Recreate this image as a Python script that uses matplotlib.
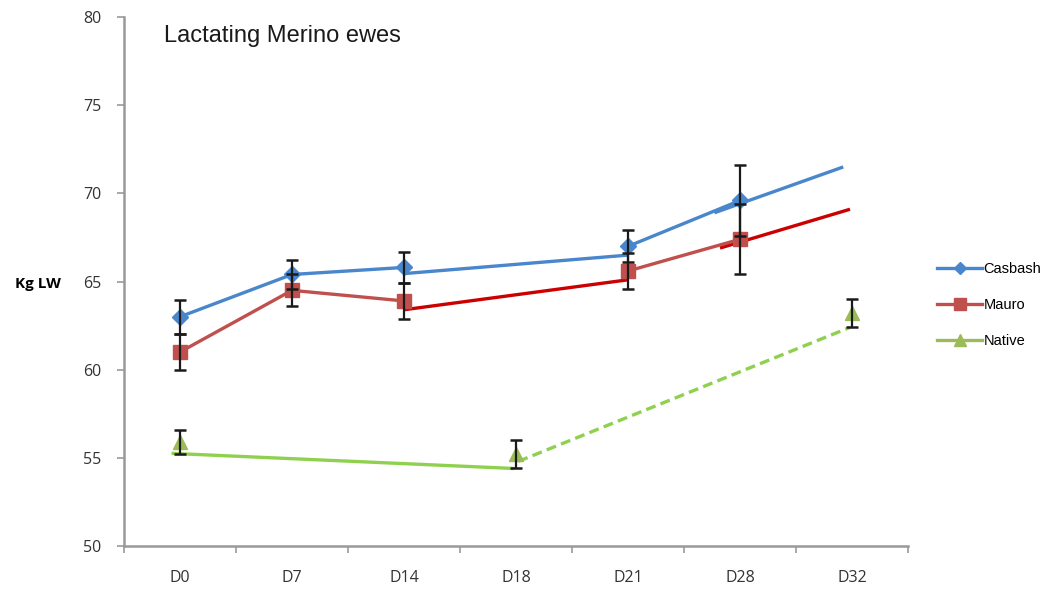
import numpy as np
import matplotlib
matplotlib.use("Agg")
import matplotlib.pyplot as plt

days = ["D0", "D7", "D14", "D18", "D21", "D28", "D32"]

# mean live weight per sampling day (nan = not weighed)
casbash = [63.0, 65.4, 65.8, np.nan, 67.0, 69.6, np.nan]
casbash_err = [0.95, 0.85, 0.9, np.nan, 0.9, 2.0, np.nan]
mauro = [61.0, 64.5, 63.9, np.nan, 65.6, 67.4, np.nan]
mauro_err = [1.0, 0.9, 1.0, np.nan, 1.0, 2.0, np.nan]
native = [55.9, np.nan, np.nan, 55.2, np.nan, np.nan, 63.2]
native_err = [0.7, np.nan, np.nan, 0.8, np.nan, np.nan, 0.8]

# hand-drawn trend segments (x in day-index units)
casbash_trend = [([2, 4], [65.45, 66.5]), ([4.77, 5.92], [68.9, 71.5])]
mauro_trend = [([2, 4], [63.4, 65.1]), ([4.82, 5.98], [66.9, 69.1])]
native_solid = ([-0.06, 2.97], [55.25, 54.4])
native_dash = ([3.02, 5.98], [54.8, 62.4])

blue = "#4A86CC"
red = "#C0504D"
dark_red = "#CC0000"
green = "#9BBB59"
light_green = "#8FD14F"

fig = plt.figure(figsize=(10.5, 5.89), dpi=100)
ax = fig.add_axes([0.118, 0.073, 0.747, 0.898])
x = np.arange(len(days))

for xs, ys in casbash_trend:
    ax.plot(xs, ys, color=blue, lw=2.4, solid_capstyle="butt", zorder=2)
for xs, ys in mauro_trend:
    ax.plot(xs, ys, color=dark_red, lw=2.4, solid_capstyle="butt", zorder=2)
ax.plot(*native_solid, color=light_green, lw=2.4, zorder=2)
ax.plot(*native_dash, color=light_green, lw=2.4, ls=(0, (3, 1.6)), zorder=2)

ax.plot(x, casbash, color=blue, lw=2.4, marker="D", ms=8, label="Casbash", zorder=3)
ax.plot(x, mauro, color=red, lw=2.4, marker="s", ms=10, label="Mauro", zorder=3)
ax.plot(x, native, color=green, lw=2.4, marker="^", ms=10, label="Native", zorder=3)

for vals, errs in [(casbash, casbash_err), (mauro, mauro_err), (native, native_err)]:
    ax.errorbar(x, vals, yerr=errs, fmt="none", ecolor="#1a1a1a", elinewidth=1.6,
                capsize=4, capthick=1.8, zorder=4)

ax.set_xlim(-0.5, 6.5)
ax.set_ylim(50, 80)
ax.set_yticks(np.arange(50, 81, 5))
ax.set_xticks(np.arange(-0.5, 7, 1))
ax.set_xticklabels([])
ax.set_xticks(x, minor=True)
ax.set_xticklabels(days, minor=True)
ax.tick_params(axis="x", which="minor", length=0, pad=17)
ax.tick_params(axis="x", which="major", length=5, width=1.2, color="#999999")
ax.tick_params(axis="y", length=5, width=1.2, color="#999999", pad=11)
for lab in ax.get_yticklabels() + ax.get_xticklabels(minor=True):
    lab.set_fontfamily("Open Sans")
    lab.set_fontsize(11.5)
    lab.set_color("#333333")

for s in ["top", "right"]:
    ax.spines[s].set_visible(False)
for s in ["left", "bottom"]:
    ax.spines[s].set_color("#999999")
    ax.spines[s].set_linewidth(1.8)

ax.text(0.051, 0.952, "Lactating Merino ewes", transform=ax.transAxes,
        fontsize=17, family="Liberation Sans", color="#1a1a1a")
fig.text(0.014, 0.518, "Kg LW", fontsize=11, fontweight="bold",
         family="Open Sans", va="center")

leg = ax.legend(loc="center left", bbox_to_anchor=(1.02, 0.455), frameon=False,
                prop={"family": "Liberation Sans", "size": 10.5},
                handlelength=3.1, handletextpad=0.1, labelspacing=1.5,
                markerscale=0.8)

fig.savefig("out.png", dpi=100)
